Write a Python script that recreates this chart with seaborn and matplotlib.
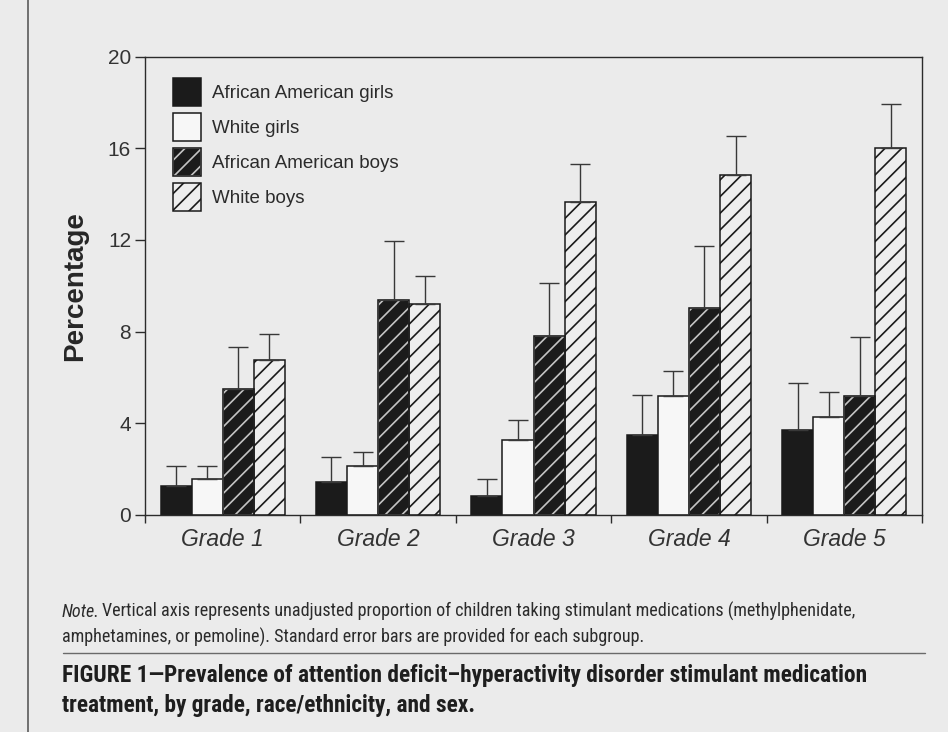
import numpy as np
import pandas as pd
import matplotlib
matplotlib.use("Agg")
import matplotlib.pyplot as plt
import seaborn as sns
from matplotlib.patches import Rectangle
from matplotlib.lines import Line2D

# ---------------- data ----------------
grades = ["Grade 1", "Grade 2", "Grade 3", "Grade 4", "Grade 5"]
groups = ["African American girls", "White girls", "African American boys", "White boys"]

aa_girls = [1.27, 1.44, 0.83, 3.49, 3.70]
white_girls = [1.56, 2.12, 3.28, 5.18, 4.26]
aa_boys = [5.50, 9.37, 7.80, 9.04, 5.18]
white_boys = [6.77, 9.22, 13.67, 14.84, 16.03]

aa_girls_se = [0.87, 1.11, 0.73, 1.76, 2.06]
white_girls_se = [0.58, 0.61, 0.88, 1.12, 1.09]
aa_boys_se = [1.82, 2.58, 2.34, 2.70, 2.58]
white_boys_se = [1.11, 1.21, 1.63, 1.70, 1.90]

yticks = [0, 4, 8, 12, 16, 20]
ylabel = "Percentage"
note_italic = "Note."
note_line1 = "Vertical axis represents unadjusted proportion of children taking stimulant medications (methylphenidate,"
note_line2 = "amphetamines, or pemoline). Standard error bars are provided for each subgroup."
caption_line1 = "FIGURE 1\u2014Prevalence of attention deficit\u2013hyperactivity disorder stimulant medication"
caption_line2 = "treatment, by grade, race/ethnicity, and sex."

values = dict(zip(groups, [aa_girls, white_girls, aa_boys, white_boys]))
errors = dict(zip(groups, [aa_girls_se, white_girls_se, aa_boys_se, white_boys_se]))

df = pd.DataFrame(
    [{"grade": gr, "group": g, "pct": values[g][i]} for g in groups for i, gr in enumerate(grades)]
)

# ---------------- style ----------------
sns.set_style("ticks")
BG = "#ebebeb"
INK = "#2b2b2b"
plt.rcParams.update({
    "hatch.linewidth": 1.2,
    "axes.edgecolor": INK,
    "axes.linewidth": 1.0,
    "text.color": INK,
})
plt.rcParams["font.family"] = ["Liberation Sans", "DejaVu Sans"]

fig = plt.figure(figsize=(9.48, 7.32), dpi=100, facecolor=BG)
ax = fig.add_axes([145 / 948, 1 - 515 / 732, 777 / 948, 458.5 / 732])
ax.set_facecolor(BG)

palette = {groups[0]: "#1b1b1b", groups[1]: "#f7f7f7", groups[2]: "#1b1b1b", groups[3]: "#eeeeee"}
sns.barplot(data=df, x="grade", y="pct", hue="group", order=grades, hue_order=groups,
            palette=palette, saturation=1, errorbar=None, width=0.8,
            edgecolor="#1a1a1a", linewidth=1.1, legend=False, ax=ax)

hatches = [None, None, "//", "//"]
hatch_edge = [None, None, "#c4c4c4", "#1a1a1a"]
bar_containers = list(ax.containers)[:len(groups)]
for k, cont in enumerate(bar_containers):
    se = errors[groups[k]]
    xs, ys = [], []
    for bar in cont:
        if hatches[k]:
            bar.set_hatch(hatches[k])
            bar.set_edgecolor(hatch_edge[k])
            if k == 2:
                ax.add_patch(Rectangle(bar.get_xy(), bar.get_width(), bar.get_height(),
                                       fill=False, edgecolor="#1a1a1a", linewidth=1.1,
                                       zorder=bar.get_zorder() + 0.1))
        xs.append(bar.get_x() + bar.get_width() / 2)
        ys.append(bar.get_height())
    ax.errorbar(xs, ys, yerr=[np.zeros(len(se)), se], fmt="none", ecolor="#383838",
                elinewidth=1.0, capsize=7, capthick=1.0, zorder=3)

ax.set_xlim(-0.5, len(grades) - 0.5)
ax.set_ylim(0, 20)
ax.set_yticks(yticks)
ax.tick_params(axis="y", direction="out", length=7, width=1, color=INK,
               labelsize=15, labelcolor="#333333", pad=3)
ax.set_xticks(range(len(grades)))
ax.set_xticklabels(grades, fontstyle="italic", fontsize=16.5, color="#333333")
ax.tick_params(axis="x", which="major", length=0, pad=9)
ax.set_xticks([i - 0.5 for i in range(len(grades) + 1)], minor=True)
ax.tick_params(axis="x", which="minor", direction="out", length=6, width=1, color=INK)
ax.set_xlabel("")
ax.set_ylabel(ylabel, fontsize=20, fontweight="bold", color="#262626")
ax.yaxis.set_label_coords((88 - 145) / 777, 0.5)
for s in ax.spines.values():
    s.set_visible(True)
    s.set_color(INK)
    s.set_linewidth(1.0)

# legend
h0 = Rectangle((0, 0), 1, 1, facecolor=palette[groups[0]], edgecolor="#1a1a1a", linewidth=1.1)
h1 = Rectangle((0, 0), 1, 1, facecolor=palette[groups[1]], edgecolor="#1a1a1a", linewidth=1.1)
h2 = (Rectangle((0, 0), 1, 1, facecolor=palette[groups[2]], edgecolor="#c4c4c4", hatch="//", linewidth=1.1),
      Rectangle((0, 0), 1, 1, fill=False, edgecolor="#1a1a1a", linewidth=1.1))
h3 = Rectangle((0, 0), 1, 1, facecolor=palette[groups[3]], edgecolor="#1a1a1a", hatch="//", linewidth=1.1)
ax.legend(handles=[h0, h1, h2, h3], labels=groups, loc="upper left",
          bbox_to_anchor=(28 / 777, 1 - 21.5 / 458.5), frameon=False, borderpad=0,
          borderaxespad=0, handlelength=1.5, handleheight=1.92, labelspacing=0.37,
          handletextpad=0.6, fontsize=13.5, labelcolor="#2b2b2b")

# page decorations
fig.add_artist(Line2D([28 / 948, 28 / 948], [0, 1], color="#5a5a5a", linewidth=1.2))
fig.add_artist(Line2D([63 / 948, 925 / 948], [1 - 653 / 732] * 2, color="#6a6a6a", linewidth=1.0))

# note and caption text, sized to the reference line widths
narrow = ["Roboto Condensed", "Liberation Sans Narrow", "DejaVu Sans"]
fig.canvas.draw()
renderer = fig.canvas.get_renderer()


def fitted_size(text, target_px, **kw):
    t = fig.text(0, 0, text, fontsize=10, family=narrow, fontstretch="condensed", **kw)
    w = t.get_window_extent(renderer).width
    t.remove()
    return 10 * target_px / w


x0 = 62 / 948
ns = fitted_size(note_italic + " " + note_line1, 796)
t_it = fig.text(x0, 1 - 617 / 732, note_italic, fontsize=ns, family=narrow, style="italic",
                fontstretch="condensed", va="baseline", color="#2b2b2b")
w_it = t_it.get_window_extent(renderer).width
fig.text(x0 + (w_it + 0.12 * ns * 100 / 72) / 948, 1 - 617 / 732, note_line1, fontsize=ns,
         family=narrow, fontstretch="condensed", va="baseline", color="#2b2b2b")
fig.text(x0, 1 - 643 / 732, note_line2, fontsize=ns, family=narrow, fontstretch="condensed",
         va="baseline", color="#2b2b2b")

cs = fitted_size(caption_line1, 808, fontweight="bold")
fig.text(x0, 1 - 682 / 732, caption_line1, fontsize=cs, family=narrow, fontweight="bold",
         fontstretch="condensed", va="baseline", color="#1e1e1e")
fig.text(x0, 1 - 712 / 732, caption_line2, fontsize=cs, family=narrow, fontweight="bold",
         fontstretch="condensed", va="baseline", color="#1e1e1e")

fig.savefig("out.png", dpi=100, facecolor=BG)
